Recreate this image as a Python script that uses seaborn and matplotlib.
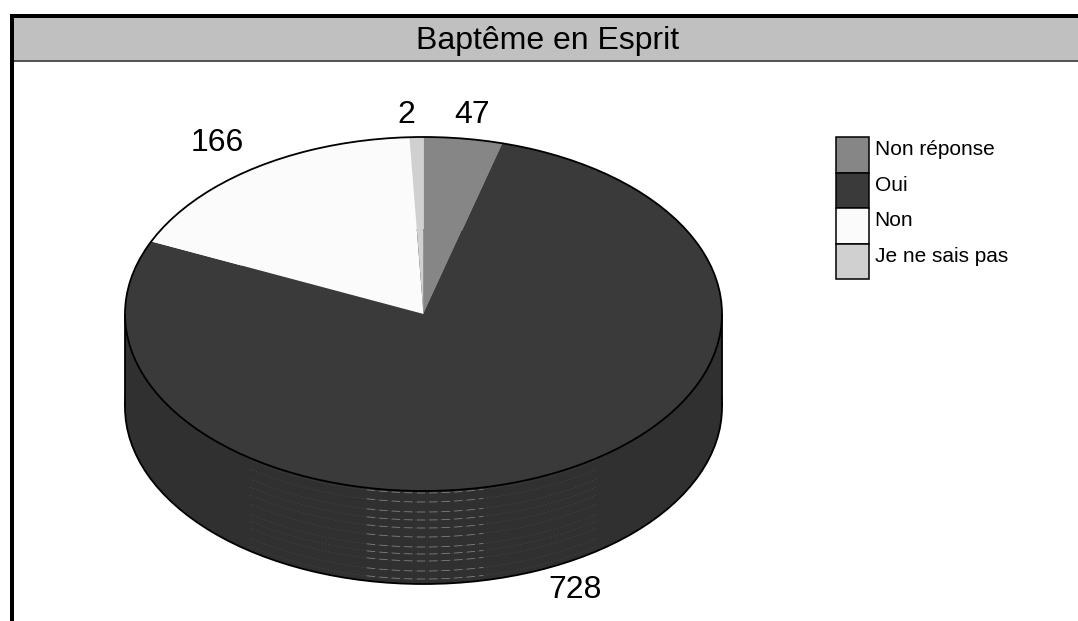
import numpy as np
import seaborn as sns
import matplotlib.pyplot as plt
from matplotlib.patches import Patch, Rectangle

sns.set_theme(style="white")
plt.rcParams['font.family'] = ['Liberation Sans', 'DejaVu Sans']

title = "Baptême en Esprit"
categories = ["Non réponse", "Oui", "Non", "Je ne sais pas"]
counts = [47, 728, 166, 2]
# slice angles as they appear in the picture (the drawn slices are not quite proportional to the counts)
slice_degrees = [15.3, 278.9, 63.1, 2.7]
slice_colors = ["#868686", "#3a3a3a", "#fbfbfb", "#d0d0d0"]
side_color = "#303030"

W, H = 1078, 621
cx, cy, rx, ry = 423.5, 314, 298.5, 177
depth = 93 / ry

fig = plt.figure(figsize=(W / 100, H / 100), dpi=100)

# background axes in pixel units: frame, title, labels, legend
bg = fig.add_axes([0, 0, 1, 1])
bg.set_xlim(0, W)
bg.set_ylim(H, 0)
bg.axis("off")
bg.add_patch(Rectangle((14, 18), W - 14, 42, fc="#c0c0c0", ec="none"))
bg.add_patch(Rectangle((10, 14), W - 10, 4, fc="black", ec="none"))
bg.add_patch(Rectangle((10, 14), 4, H - 14, fc="black", ec="none"))
bg.add_patch(Rectangle((14, 60), W - 14, 1.6, fc="#555555", ec="none"))
bg.text(548, 40.5, title, ha="center", va="center", fontsize=23, color="black")

# pie axes: radius 1 maps to the ellipse
ax = fig.add_axes([0, 0, 1, 1])
ax.patch.set_alpha(0)
ax.pie([1], center=(0, -depth), colors=[side_color],
       wedgeprops=dict(edgecolor="black", linewidth=1.3))
ax.bar(0, depth, width=2, bottom=-depth, color=side_color, linewidth=0)
ax.vlines([-1, 1], -depth, 0, color="black", linewidth=1.3)

# faint banding on the side of the pie
band_px = [2, 11, 21, 29, 37, 46, 56, 63, 70, 80, 88]
for px in band_px:
    x = np.linspace(-0.58, 0.58, 120)
    ax.plot(x, -np.sqrt(1 - x**2) - px / ry, color="#4c4c4c", lw=0.5, dashes=(1.5, 3))
    x = np.linspace(-0.19, 0.2, 60)
    ax.plot(x, -np.sqrt(1 - x**2) - px / ry, color="#7e7e7e", lw=0.6, dashes=(10, 5))

ax.pie(slice_degrees, colors=slice_colors, startangle=90, counterclock=False,
       wedgeprops=dict(linewidth=0))
ax.pie([1], colors=["none"], wedgeprops=dict(edgecolor="black", linewidth=1.3, fill=False))

ax.set_aspect("auto")
ax.set_xlim(-cx / rx, (W - cx) / rx)
ax.set_ylim((cy - H) / ry, cy / ry)
ax.axis("off")

# value labels sit on top of the pie
top = fig.add_axes([0, 0, 1, 1])
top.set_xlim(0, W)
top.set_ylim(H, 0)
top.axis("off")
top.patch.set_alpha(0)
label_pos = [(472, 115), (575, 590), (217, 143), (406, 115)]
for n, (lx, ly) in zip(counts, label_pos):
    top.text(lx, ly, str(n), ha="center", va="center", fontsize=23, color="black")

handles = [Patch(facecolor=c, edgecolor="black", linewidth=1.1) for c in slice_colors]
leg = top.legend(handles, categories, loc="upper left", bbox_to_anchor=(836 / W, 1 - 137 / H),
                 frameon=False, fontsize=15, handlelength=1.6, handleheight=2.25,
                 labelspacing=0, handletextpad=0.25, borderpad=0, borderaxespad=0,
                 labelcolor="black")
for t in leg.get_texts():
    t.set_position((0, 6))

fig.savefig("out.png", dpi=100)
